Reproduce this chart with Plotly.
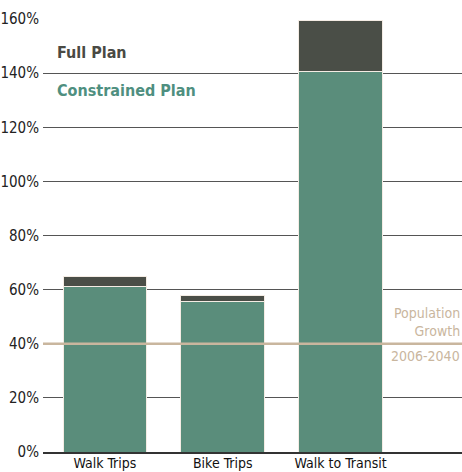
import plotly.graph_objects as go

categories = ["Walk Trips", "Bike Trips", "Walk to Transit"]
constrained_plan = [61, 55.5, 140.5]
full_plan = [64.7, 57.8, 159.3]
population_growth = 40
tick_vals = [0, 20, 40, 60, 80, 100, 120, 140, 160]
tick_text = ["0%", "20%", "40%", "60%", "80%", "100%", "120%", "140%", "160%"]

FONT = "DejaVu Sans Condensed, Liberation Sans Narrow, Roboto Condensed, sans-serif"
GREEN = "#5a8d7b"
DARK = "#4a4e47"
TAN = "#c9b69e"

full_extra = [f - c for f, c in zip(full_plan, constrained_plan)]

fig = go.Figure()
fig.add_trace(go.Bar(x=categories, y=constrained_plan, marker=dict(color=GREEN, line=dict(color="#f4ece4", width=1)),
                     width=0.71, name="Constrained Plan"))
fig.add_trace(go.Bar(x=categories, y=full_extra, base=constrained_plan,
                     marker=dict(color=DARK, line=dict(color="#f4ece4", width=1)),
                     width=0.71, name="Full Plan"))

fig.add_shape(type="line", xref="paper", x0=0, x1=1, yref="y", y0=population_growth, y1=population_growth,
              line=dict(color=TAN, width=2.5), layer="above")

fig.add_annotation(xref="paper", yref="y", x=1, y=population_growth, xanchor="right", yanchor="bottom",
                   text="Population<br>Growth", showarrow=False, align="right", yshift=3,
                   font=dict(family=FONT, size=14, color=TAN))
fig.add_annotation(xref="paper", yref="y", x=1, y=population_growth, xanchor="right", yanchor="top",
                   text="2006-2040", showarrow=False, align="right", yshift=-2,
                   font=dict(family=FONT, size=14, color=TAN))

fig.add_annotation(xref="x", yref="y", x=-0.42, y=147.5, xanchor="left", yanchor="middle",
                   text="<b>Full Plan</b>", showarrow=False,
                   font=dict(family=FONT, size=16, color="#4a4a44"))
fig.add_annotation(xref="x", yref="y", x=-0.42, y=133.5, xanchor="left", yanchor="middle",
                   text="<b>Constrained Plan</b>", showarrow=False,
                   font=dict(family=FONT, size=16, color="#4f8f80"))

fig.update_layout(
    width=462, height=472,
    margin=dict(l=43, r=0, t=19, b=20),
    paper_bgcolor="white", plot_bgcolor="white",
    barmode="stack", showlegend=False,
    font=dict(family=FONT, size=14, color="#222"),
    xaxis=dict(range=[-0.525, 3.03], showgrid=False, showline=True, linecolor="#333", linewidth=2,
               ticks="", tickfont=dict(family=FONT, size=14, color="#111"), ticklabelstandoff=-3),
    yaxis=dict(range=[0, 160], tickvals=tick_vals, ticktext=tick_text, showgrid=True,
               gridcolor="#555", gridwidth=1, zeroline=False, showline=False, ticks="",
               tickfont=dict(family=FONT, size=15, color="#222"), ticklabelstandoff=3),
)

fig.write_html("out.html", config={"displayModeBar": False},
               post_script="document.body.style.margin='0';document.body.style.overflow='hidden';")
